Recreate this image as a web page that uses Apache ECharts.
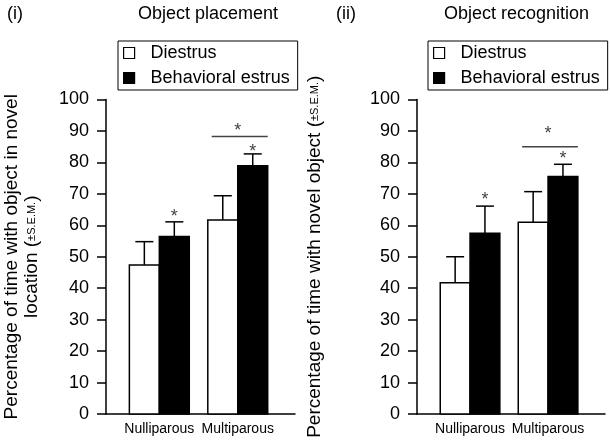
<!DOCTYPE html>
<html>
<head>
<meta charset="utf-8">
<script src="https://cdn.jsdelivr.net/npm/echarts@6/dist/echarts.min.js"></script>
<style>html,body{margin:0;padding:0;background:#fff}#c{width:610px;height:440px}</style>
</head>
<body>
<div id="c"></div>
<script>
const categories = ['Nulliparous', 'Multiparous'];
const seriesNames = ['Diestrus', 'Behavioral estrus'];

const placementDiestrusMean = [47.4, 61.7];
const placementDiestrusSem = [7.4, 7.7];
const placementEstrusMean = [56.4, 78.9];
const placementEstrusSem = [4.7, 3.8];
const placementStars = [63.9, 84.5];
const placementBracket = [88.2, 91.4];

const recognitionDiestrusMean = [41.7, 61.0];
const recognitionDiestrusSem = [8.3, 9.7];
const recognitionEstrusMean = [57.5, 75.5];
const recognitionEstrusSem = [8.6, 3.9];
const recognitionStars = [69.3, 82.4];
const recognitionBracket = [85.0, 90.3];

const yMin = 0, yMax = 100, yInterval = 10;

const FONT = '"Liberation Sans", Arial, Helvetica, sans-serif';
const BAR_W = 0.382;
const CAP_W = 0.23;

function rows(mean, sem) { return mean.map((m, i) => [i, m, sem[i]]); }

function barRenderer(side, fill) {
  return function (params, api) {
    const c = api.value(0), m = api.value(1), s = api.value(2);
    const w = api.size([BAR_W, 0])[0];
    const capW = api.size([CAP_W, 0])[0];
    const base = api.coord([c, 0]);
    const top = api.coord([c, m]);
    const errTop = api.coord([c, m + s]);
    const x0 = side < 0 ? base[0] - w : base[0];
    const cx = x0 + w / 2;
    return {
      type: 'group',
      children: [
        { type: 'rect', shape: { x: x0, y: top[1], width: w, height: base[1] - top[1] },
          style: { fill: fill, stroke: '#000', lineWidth: 1.5 } },
        { type: 'line', shape: { x1: cx, y1: top[1], x2: cx, y2: errTop[1] },
          style: { stroke: '#000', lineWidth: 1.5 } },
        { type: 'line', shape: { x1: cx - capW / 2, y1: errTop[1], x2: cx + capW / 2, y2: errTop[1] },
          style: { stroke: '#000', lineWidth: 1.5 } }
      ]
    };
  };
}

function starText(x, y) {
  return { type: 'text', x: x, y: y + 4,
    style: { text: '*', fill: '#444', font: '18px ' + FONT, textAlign: 'center', textVerticalAlign: 'middle' } };
}

function starRenderer(params, api) {
  const c = api.value(0), v = api.value(1);
  const w = api.size([BAR_W, 0])[0];
  const p = api.coord([c, v]);
  return starText(p[0] + w / 2, p[1]);
}

function bracketRenderer(params, api) {
  const c = api.value(0), lineV = api.value(1), starV = api.value(2);
  const w = api.size([BAR_W, 0])[0];
  const pl = api.coord([c, lineV]);
  const ps = api.coord([c, starV]);
  return {
    type: 'group',
    children: [
      { type: 'line', shape: { x1: pl[0] - w + w * 0.13, y1: pl[1], x2: pl[0] + w, y2: pl[1] },
        style: { stroke: '#444', lineWidth: 1.5 } },
      starText(ps[0], ps[1])
    ]
  };
}

function xAxis(gi) {
  return {
    type: 'value', gridIndex: gi, min: -0.68, max: 1.73,
    axisLine: { show: true, onZero: false, lineStyle: { color: '#000', width: 1.5 } },
    axisTick: { show: false },
    splitLine: { show: false },
    axisLabel: {
      customValues: [0, 1],
      formatter: v => categories[Math.round(v)] || '',
      color: '#000', fontSize: 14, fontFamily: FONT, margin: 8
    }
  };
}

function yAxis(gi, name, gap, rich) {
  return {
    type: 'value', gridIndex: gi, min: yMin, max: yMax, interval: yInterval,
    name: name, nameLocation: 'middle', nameGap: gap,
    nameTextStyle: { color: '#000', fontSize: 19, fontFamily: FONT, lineHeight: 20, rich: rich },
    axisLine: { show: true, onZero: false, lineStyle: { color: '#000', width: 1.5 } },
    axisTick: { show: true, inside: false, length: 9, lineStyle: { color: '#000', width: 1.5 } },
    splitLine: { show: false },
    axisLabel: { color: '#000', fontSize: 18, fontFamily: FONT, margin: 17 }
  };
}

const richName = {
  n: { fontSize: 19, fontFamily: FONT, color: '#000', lineHeight: 20 },
  s: { fontSize: 11, fontFamily: FONT, color: '#000', lineHeight: 20 }
};

function legend(left) {
  return {
    orient: 'vertical', left: left, top: 41,
    borderColor: '#000', borderWidth: 1, padding: [2, 8, 2, 5], itemGap: 5,
    itemWidth: 11, itemHeight: 11,
    textStyle: { color: '#000', fontSize: 18, fontFamily: FONT, lineHeight: 20, padding: [0, 0, 0, 11] },
    selectedMode: false,
    data: [
      { name: seriesNames[0], icon: 'rect', itemStyle: { color: '#fff', borderColor: '#000', borderWidth: 1.2 } },
      { name: seriesNames[1], icon: 'rect', itemStyle: { color: '#000', borderColor: '#000', borderWidth: 1.2 } }
    ]
  };
}

const titleStyle = { color: '#000', fontSize: 18, fontWeight: 'normal', fontFamily: FONT };

const option = {
  animation: false,
  backgroundColor: '#fff',
  title: [
    { text: '(i)', left: 7, top: 5, padding: 0, textStyle: titleStyle },
    { text: 'Object placement', left: 138, top: 5, padding: 0, textStyle: titleStyle },
    { text: '(ii)', left: 336, top: 5, padding: 0, textStyle: titleStyle },
    { text: 'Object recognition', left: 444, top: 5, padding: 0, textStyle: titleStyle }
  ],
  legend: [legend(118), legend(428)],
  grid: [
    { left: 106, top: 99.5, width: 189, height: 314.5, outerBoundsMode: 'none', containLabel: false },
    { left: 417, top: 99.5, width: 188, height: 314.5, outerBoundsMode: 'none', containLabel: false }
  ],
  xAxis: [xAxis(0), xAxis(1)],
  yAxis: [
    yAxis(0, '{n|Percentage of time with object in novel}\n{n|location (}{s|±S.E.M.}{n|)}', 64, richName),
    yAxis(1, '{n|Percentage of time with novel object (}{s|±S.E.M.}{n|)}', 92, richName)
  ],
  series: [
    { type: 'custom', name: seriesNames[0], xAxisIndex: 0, yAxisIndex: 0, clip: false,
      itemStyle: { color: '#fff', borderColor: '#000' },
      encode: { x: 0, y: 1 }, renderItem: barRenderer(-1, '#fff'),
      data: rows(placementDiestrusMean, placementDiestrusSem) },
    { type: 'custom', name: seriesNames[1], xAxisIndex: 0, yAxisIndex: 0, clip: false,
      itemStyle: { color: '#000' },
      encode: { x: 0, y: 1 }, renderItem: barRenderer(1, '#000'),
      data: rows(placementEstrusMean, placementEstrusSem) },
    { type: 'custom', name: 'stars-i', xAxisIndex: 0, yAxisIndex: 0, clip: false,
      encode: { x: 0, y: 1 }, renderItem: starRenderer,
      data: placementStars.map((v, i) => [i, v]) },
    { type: 'custom', name: 'bracket-i', xAxisIndex: 0, yAxisIndex: 0, clip: false,
      encode: { x: 0, y: 1 }, renderItem: bracketRenderer,
      data: [[1, placementBracket[0], placementBracket[1]]] },

    { type: 'custom', name: seriesNames[0], xAxisIndex: 1, yAxisIndex: 1, clip: false,
      itemStyle: { color: '#fff', borderColor: '#000' },
      encode: { x: 0, y: 1 }, renderItem: barRenderer(-1, '#fff'),
      data: rows(recognitionDiestrusMean, recognitionDiestrusSem) },
    { type: 'custom', name: seriesNames[1], xAxisIndex: 1, yAxisIndex: 1, clip: false,
      itemStyle: { color: '#000' },
      encode: { x: 0, y: 1 }, renderItem: barRenderer(1, '#000'),
      data: rows(recognitionEstrusMean, recognitionEstrusSem) },
    { type: 'custom', name: 'stars-ii', xAxisIndex: 1, yAxisIndex: 1, clip: false,
      encode: { x: 0, y: 1 }, renderItem: starRenderer,
      data: recognitionStars.map((v, i) => [i, v]) },
    { type: 'custom', name: 'bracket-ii', xAxisIndex: 1, yAxisIndex: 1, clip: false,
      encode: { x: 0, y: 1 }, renderItem: bracketRenderer,
      data: [[1, recognitionBracket[0], recognitionBracket[1]]] }
  ]
};

const chart = echarts.init(document.getElementById('c'), null, { renderer: 'canvas' });
chart.setOption(option);
</script>
</body>
</html>
